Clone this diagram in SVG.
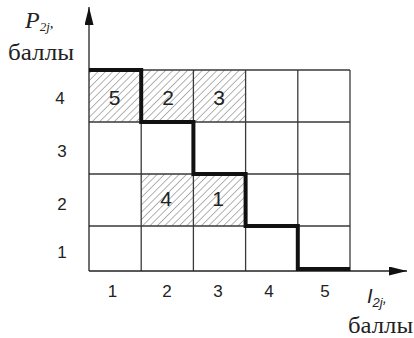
<svg xmlns="http://www.w3.org/2000/svg" width="414" height="338" viewBox="0 0 414 338">
<style>
.grid{fill:none;stroke:#3a3a3a;stroke-width:1.3}
.hatch{fill:url(#h);stroke:none}
.num{font-family:"Liberation Sans",Arial,sans-serif;font-size:17px;fill:#222;text-anchor:middle}
.cell{font-family:"Liberation Sans",Arial,sans-serif;font-size:21px;fill:#222;text-anchor:middle}
.ser{font-family:"Liberation Serif","Times New Roman",serif;fill:#222}
.axis{stroke:#222;stroke-width:1.3;fill:none}
.step{fill:none;stroke:#111;stroke-width:4;stroke-linejoin:miter;stroke-linecap:butt}
</style>
<defs>
<pattern id="h" patternUnits="userSpaceOnUse" width="5.2" height="5.2" patternTransform="rotate(45)">
<line x1="0" y1="0" x2="0" y2="5.2" stroke="#555" stroke-width="0.9"/>
</pattern>
<marker id="arr" viewBox="0 0 10 10" refX="10" refY="5" markerWidth="18" markerHeight="9" markerUnits="userSpaceOnUse" orient="auto" preserveAspectRatio="none">
<path d="M0,0 L10,5 L0,10 Z" fill="#111"/>
</marker>
</defs>
<g id="hatched">
<rect class="hatch" x="89" y="70" width="52.2" height="52"/>
<rect class="hatch" x="141.2" y="70" width="52.2" height="52"/>
<rect class="hatch" x="193.4" y="70" width="52.2" height="52"/>
<rect class="hatch" x="141.2" y="174" width="52.2" height="52"/>
<rect class="hatch" x="193.4" y="174" width="52.2" height="52"/>
</g>
<g id="grid">
<path class="grid" d="M89,70 H350 M89,122 H350 M89,174 H350 M89,226 H350 M141.2,70 V271 M193.4,70 V271 M245.6,70 V271 M297.8,70 V271 M350,70 V271"/>
</g>
<g id="connectors">
<line class="axis" x1="89" y1="271" x2="89" y2="7" marker-end="url(#arr)"/>
<line class="axis" x1="89" y1="271" x2="407" y2="271" marker-end="url(#arr)"/>
<path class="step" d="M89,70 H141.2 V122 H193.4 V174 H245.6 V226 H297.8 V269 H350"/>
</g>
<g id="cells">
<text class="cell" x="114.5" y="105">5</text>
<text class="cell" x="168" y="105">2</text>
<text class="cell" x="219" y="105">3</text>
<text class="cell" x="166" y="206">4</text>
<text class="cell" x="218" y="206">1</text>
</g>
<g id="ylabels">
<text class="num" x="60" y="104">4</text>
<text class="num" x="62" y="157">3</text>
<text class="num" x="62" y="210">2</text>
<text class="num" x="62" y="258">1</text>
</g>
<g id="xlabels">
<text class="num" x="112.5" y="297">1</text>
<text class="num" x="167" y="297">2</text>
<text class="num" x="218" y="297">3</text>
<text class="num" x="269" y="297">4</text>
<text class="num" x="325" y="297">5</text>
</g>
<g id="ytitle">
<text class="ser" x="25" y="28" font-size="24" font-style="italic">P<tspan font-size="13" dy="3">2j</tspan><tspan font-size="15" dy="-3">,</tspan></text>
<text class="ser" x="8" y="60" font-size="24" textLength="66" lengthAdjust="spacingAndGlyphs">баллы</text>
</g>
<g id="xtitle">
<text x="367" y="303" font-family="Liberation Sans,Arial,sans-serif" font-size="20" font-style="italic" fill="#222">I<tspan font-size="13" dy="4">2j</tspan><tspan font-size="15" dy="-4">,</tspan></text>
<text class="ser" x="348" y="333" font-size="24" textLength="65" lengthAdjust="spacingAndGlyphs">баллы</text>
</g>
</svg>
